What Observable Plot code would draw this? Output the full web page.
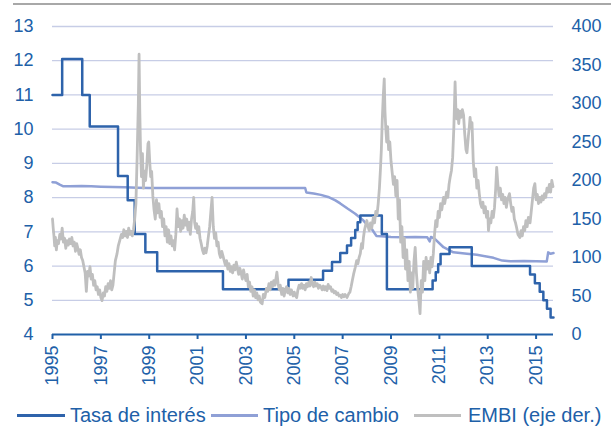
<!DOCTYPE html>
<html>
<head>
<meta charset="utf-8">
<script src="https://cdn.jsdelivr.net/npm/d3@7"></script>
<script src="https://cdn.jsdelivr.net/npm/@observablehq/plot@0.6"></script>
<style>
  html, body { margin: 0; padding: 0; background: #fff; }
  #wrap { position: relative; width: 614px; height: 437px; font-family: "Liberation Sans", Arial, sans-serif; }
  #topline { position: absolute; left: 13px; top: 3px; width: 598px; height: 0; border-top: 2px solid #a8a8a8; }
  #chart { position: absolute; left: 0; top: 0; }
  .lg { position: absolute; top: 403px; height: 24px; line-height: 24px; font-size: 20px; color: #2060a8; white-space: nowrap; }
  .sw { position: absolute; top: 414px; height: 3px; }
</style>
</head>
<body>
<div id="wrap">
  <div id="topline"></div>
  <div id="chart"></div>
</div>
<script>
// ---- Data ----
const seriesNames = ["Tasa de interés", "Tipo de cambio", "EMBI (eje der.)"];
const xTicks = [1995, 1997, 1999, 2001, 2003, 2005, 2007, 2009, 2011, 2013, 2015];
const leftTicks = [4, 5, 6, 7, 8, 9, 10, 11, 12, 13];
const rightTicks = [0, 50, 100, 150, 200, 250, 300, 350, 400];

// Tasa de interés (step series)
const rateDates = [1995.0, 1995.4, 1996.23, 1996.54, 1997.71, 1998.11, 1998.4, 1998.84, 1999.33, 2002.05,
  2004.76, 2006.19, 2006.56, 2006.9, 2007.18, 2007.35, 2007.52, 2007.62, 2007.73, 2008.62, 2008.83,
  2010.72, 2010.85, 2010.95, 2011.05, 2011.42, 2012.34, 2014.75, 2014.95, 2015.15, 2015.3, 2015.45, 2015.6, 2015.72];
const rateValues = [11.0, 12.05, 11.0, 10.08, 8.63, 7.92, 6.94, 6.4, 5.85, 5.32,
  5.6, 5.86, 6.12, 6.38, 6.6, 6.82, 7.05, 7.28, 7.48, 6.94, 5.32,
  5.58, 5.82, 6.05, 6.35, 6.55, 6.0, 5.75, 5.5, 5.25, 5.0, 4.75, 4.5, 4.5];

// Tipo de cambio
const fxDates = [1995.0, 1995.15, 1995.3, 1995.45, 1995.7, 1996.2, 1996.6, 1997.0, 1997.5, 1998.0, 1998.5, 1999.0,
  2000.0, 2001.0, 2002.0, 2003.0, 2004.0, 2005.0, 2005.45, 2005.5, 2005.8, 2006.1, 2006.4, 2006.7, 2006.9,
  2007.2, 2007.52, 2007.86, 2008.0, 2008.2, 2008.3, 2008.4, 2008.6, 2009.0, 2009.5, 2010.0, 2010.5, 2010.6,
  2010.65, 2010.8, 2011.17, 2011.58, 2012.14, 2012.55, 2013.24, 2013.6, 2013.93, 2014.5, 2015.0, 2015.44,
  2015.5, 2015.6, 2015.72];
const fxValues = [8.45, 8.44, 8.38, 8.33, 8.33, 8.34, 8.33, 8.32, 8.31, 8.3, 8.29, 8.28,
  8.28, 8.28, 8.28, 8.28, 8.28, 8.28, 8.28, 8.15, 8.12, 8.08, 8.02, 7.92, 7.83,
  7.68, 7.53, 7.33, 7.22, 7.09, 6.98, 6.88, 6.87, 6.85, 6.84, 6.85, 6.84, 6.72,
  6.85, 6.8, 6.55, 6.4, 6.36, 6.33, 6.24, 6.16, 6.14, 6.15, 6.14, 6.13,
  6.4, 6.36, 6.38];

// EMBI (right axis, basis points)
const embiDates = [1995.00,1995.03,1995.06,1995.09,1995.12,1995.16,1995.20,1995.25,1995.30,1995.35,1995.40,1995.45,1995.50,1995.55,1995.60,1995.65,1995.70,1995.75,1995.80,1995.85,1995.90,1995.95,
  1996.00,1996.05,1996.10,1996.15,1996.20,1996.25,1996.30,1996.35,1996.40,1996.45,1996.50,1996.55,1996.60,1996.65,1996.70,1996.75,1996.80,1996.85,1996.90,1996.95,
  1997.00,1997.05,1997.10,1997.15,1997.20,1997.25,1997.30,1997.35,1997.40,1997.45,1997.50,1997.55,1997.60,1997.67,1997.72,1997.78,1997.85,1997.90,1997.95,
  1998.00,1998.05,1998.10,1998.15,1998.20,1998.25,1998.30,1998.35,1998.40,1998.45,1998.50,1998.55,1998.58,1998.61,1998.64,1998.68,1998.72,1998.76,1998.80,1998.85,1998.90,1998.95,1998.98,
  1999.02,1999.06,1999.10,1999.15,1999.20,1999.25,1999.30,1999.35,1999.40,1999.45,1999.50,1999.55,1999.60,1999.65,1999.70,1999.75,1999.80,1999.85,1999.90,1999.95,
  2000.00,2000.05,2000.10,2000.15,2000.20,2000.25,2000.30,2000.35,2000.40,2000.45,2000.50,2000.55,2000.60,2000.65,2000.70,2000.75,2000.80,2000.84,2000.88,2000.92,2000.96,
  2001.00,2001.05,2001.10,2001.15,2001.20,2001.25,2001.30,2001.35,2001.40,2001.45,2001.50,2001.55,2001.60,2001.65,2001.70,2001.75,2001.80,2001.85,2001.90,2001.95,
  2002.00,2002.05,2002.10,2002.15,2002.20,2002.25,2002.30,2002.35,2002.40,2002.45,2002.50,2002.55,2002.60,2002.65,2002.70,2002.75,2002.80,2002.85,2002.90,2002.95,
  2003.00,2003.05,2003.10,2003.15,2003.20,2003.25,2003.30,2003.35,2003.40,2003.45,2003.50,2003.55,2003.60,2003.67,2003.72,2003.78,2003.85,2003.90,2003.95,
  2004.00,2004.05,2004.10,2004.15,2004.20,2004.28,2004.33,2004.38,2004.42,2004.48,2004.53,2004.58,2004.63,2004.68,2004.73,2004.78,2004.83,2004.88,2004.95,
  2005.00,2005.05,2005.10,2005.15,2005.20,2005.25,2005.30,2005.35,2005.40,2005.45,2005.50,2005.55,2005.60,2005.65,2005.70,2005.75,2005.80,2005.85,2005.90,2005.95,
  2006.00,2006.05,2006.10,2006.15,2006.20,2006.25,2006.30,2006.35,2006.40,2006.45,2006.50,2006.55,2006.60,2006.65,2006.70,2006.75,2006.80,2006.85,2006.90,2006.95,
  2007.00,2007.05,2007.10,2007.18,2007.25,2007.30,2007.35,2007.40,2007.45,2007.52,2007.58,2007.63,2007.68,2007.73,2007.78,2007.82,2007.86,2007.90,2007.95,
  2008.00,2008.05,2008.10,2008.15,2008.20,2008.27,2008.32,2008.37,2008.42,2008.47,2008.52,2008.56,2008.60,2008.64,2008.68,2008.72,2008.75,2008.78,2008.82,2008.86,2008.90,2008.95,
  2009.00,2009.05,2009.10,2009.15,2009.20,2009.25,2009.30,2009.35,2009.40,2009.45,2009.50,2009.55,2009.60,2009.65,2009.70,2009.75,2009.80,2009.85,2009.90,2009.95,
  2010.00,2010.05,2010.10,2010.15,2010.20,2010.25,2010.30,2010.35,2010.40,2010.45,2010.50,2010.55,2010.60,2010.65,2010.70,2010.75,2010.80,2010.85,2010.90,2010.95,
  2011.00,2011.05,2011.10,2011.17,2011.22,2011.30,2011.35,2011.40,2011.45,2011.50,2011.55,2011.60,2011.65,2011.68,2011.72,2011.76,2011.80,2011.85,2011.90,2011.95,
  2012.00,2012.05,2012.10,2012.14,2012.20,2012.24,2012.27,2012.31,2012.35,2012.40,2012.45,2012.50,2012.55,2012.60,2012.65,2012.70,2012.75,2012.80,2012.85,2012.90,2012.95,
  2013.00,2013.03,2013.08,2013.13,2013.18,2013.23,2013.28,2013.33,2013.37,2013.42,2013.47,2013.52,2013.57,2013.62,2013.67,2013.72,2013.77,2013.82,2013.90,2013.95,
  2014.00,2014.05,2014.10,2014.15,2014.20,2014.25,2014.33,2014.38,2014.43,2014.48,2014.53,2014.58,2014.63,2014.68,2014.75,2014.80,2014.85,2014.90,2014.95,
  2015.00,2015.05,2015.10,2015.15,2015.20,2015.25,2015.30,2015.35,2015.40,2015.45,2015.50,2015.55,2015.60,2015.65,2015.70];
const embiValues = [150,138,128,115,126,110,122,118,130,124,138,120,125,112,122,116,124,118,126,115,120,108,
  118,112,104,110,100,96,88,80,56,82,76,88,72,78,64,70,58,62,52,58,
  48,44,54,50,62,56,66,60,70,58,64,80,96,105,115,122,130,126,136,
  128,134,126,138,130,134,128,136,150,170,230,300,364,290,240,205,235,190,212,200,220,248,250,
  225,205,212,180,162,150,175,158,170,152,160,140,150,128,140,120,136,118,128,115,
  122,110,130,163,140,150,134,148,138,155,142,150,136,146,130,150,160,178,145,138,144,
  132,140,125,118,110,105,112,106,115,128,140,160,178,140,125,132,115,120,105,100,
  108,102,96,90,96,85,92,82,88,80,90,84,94,86,78,86,80,72,84,76,
  70,78,62,68,56,62,50,58,48,54,45,50,42,40,52,48,60,56,66,
  58,68,62,70,64,81,66,58,64,52,60,50,58,62,54,60,52,58,50,
  55,50,48,58,64,60,66,60,64,58,66,62,68,63,74,66,62,68,63,66,
  60,64,62,58,63,58,62,57,65,60,62,56,58,54,56,52,54,50,51,48,
  52,49,52,48,53,55,62,70,78,87,96,92,100,105,118,112,126,135,142,
  148,140,135,145,138,152,145,160,155,170,190,213,240,280,310,332,290,270,250,270,240,250,
  225,210,195,205,180,200,150,175,120,140,100,125,85,110,70,95,55,80,60,95,
  113,80,60,45,27,70,55,95,70,100,85,95,80,100,88,105,130,148,140,160,
  152,170,162,178,170,185,178,195,205,213,230,270,328,295,280,292,274,290,282,292,
  285,260,240,236,258,270,282,268,275,226,205,215,190,200,183,170,165,172,158,166,152,
  160,135,150,145,160,152,165,190,217,195,180,190,175,182,170,178,165,175,183,170,
  160,165,150,145,138,130,126,135,128,140,135,148,140,152,145,160,175,190,196,
  175,182,170,178,172,180,175,183,178,190,185,195,185,200,192];

// ---- Build ----
const blue = "#2060a8";
const rateColor = "#2e63ab";
const fxColor = "#8fa0d6";
const embiColor = "#bfbfbf";
const gridColor = "#c7cde6";
const xMax = 2015.72;
const toLeft = e => 4 + e * 9 / 400;
const toRight = v => Math.round((v - 4) * 400 / 9);

const rate = rateDates.map((t, i) => ({t, v: rateValues[i]}));
const fx = fxDates.map((t, i) => ({t, v: fxValues[i]}));
const embi = embiDates.map((t, i) => ({t, v: toLeft(embiValues[i])}));

const chart = Plot.plot({
  width: 614,
  height: 395,
  marginLeft: 52,
  marginRight: 61,
  marginTop: 26,
  marginBottom: 61,
  x: {domain: [1995, xMax]},
  y: {domain: [4, 13]},
  style: {fontFamily: "'Liberation Sans', Arial, sans-serif", fontSize: "18px", color: blue, background: "transparent", overflow: "visible"},
  marks: [
    Plot.gridY(leftTicks.filter(d => d > 4), {stroke: gridColor, strokeOpacity: 1, strokeWidth: 1.3}),
    Plot.axisY(leftTicks, {anchor: "left", tickSize: 0, tickPadding: 19, fill: blue, fontSize: 18, label: null}),
    Plot.axisY(rightTicks.map(toLeft), {anchor: "right", tickSize: 0, tickPadding: 18, fill: blue, fontSize: 18, label: null, tickFormat: d => String(toRight(d))}),
    Plot.line(fx, {x: "t", y: "v", stroke: fxColor, strokeWidth: 2.5}),
    Plot.line(rate, {x: "t", y: "v", stroke: rateColor, strokeWidth: 2.5, curve: "step-after"}),
    Plot.line(embi, {x: "t", y: "v", stroke: embiColor, strokeWidth: 2.8, strokeLinejoin: "round"}),
    Plot.ruleY([4], {stroke: blue, strokeWidth: 2.2}),
    Plot.axisX(xTicks, {anchor: "bottom", tickRotate: -90, tickSize: 5, tickPadding: 6, stroke: blue, strokeWidth: 2, fill: blue, fontSize: 18, label: null, tickFormat: d => String(d)})
  ]
});
document.getElementById("chart").appendChild(chart);

// ---- Legend ----
const wrap = document.getElementById("wrap");
const legendItems = [
  {name: seriesNames[0], color: rateColor, sx: 17, sw: 48, tx: 70},
  {name: seriesNames[1], color: fxColor, sx: 211, sw: 47, tx: 263},
  {name: seriesNames[2], color: embiColor, sx: 414, sw: 47, tx: 468}
];
legendItems.forEach(it => {
  const s = document.createElement("div");
  s.className = "sw";
  s.style.left = it.sx + "px";
  s.style.width = it.sw + "px";
  s.style.background = it.color;
  wrap.appendChild(s);
  const t = document.createElement("div");
  t.className = "lg";
  t.style.left = it.tx + "px";
  t.textContent = it.name;
  wrap.appendChild(t);
});
</script>
</body>
</html>
